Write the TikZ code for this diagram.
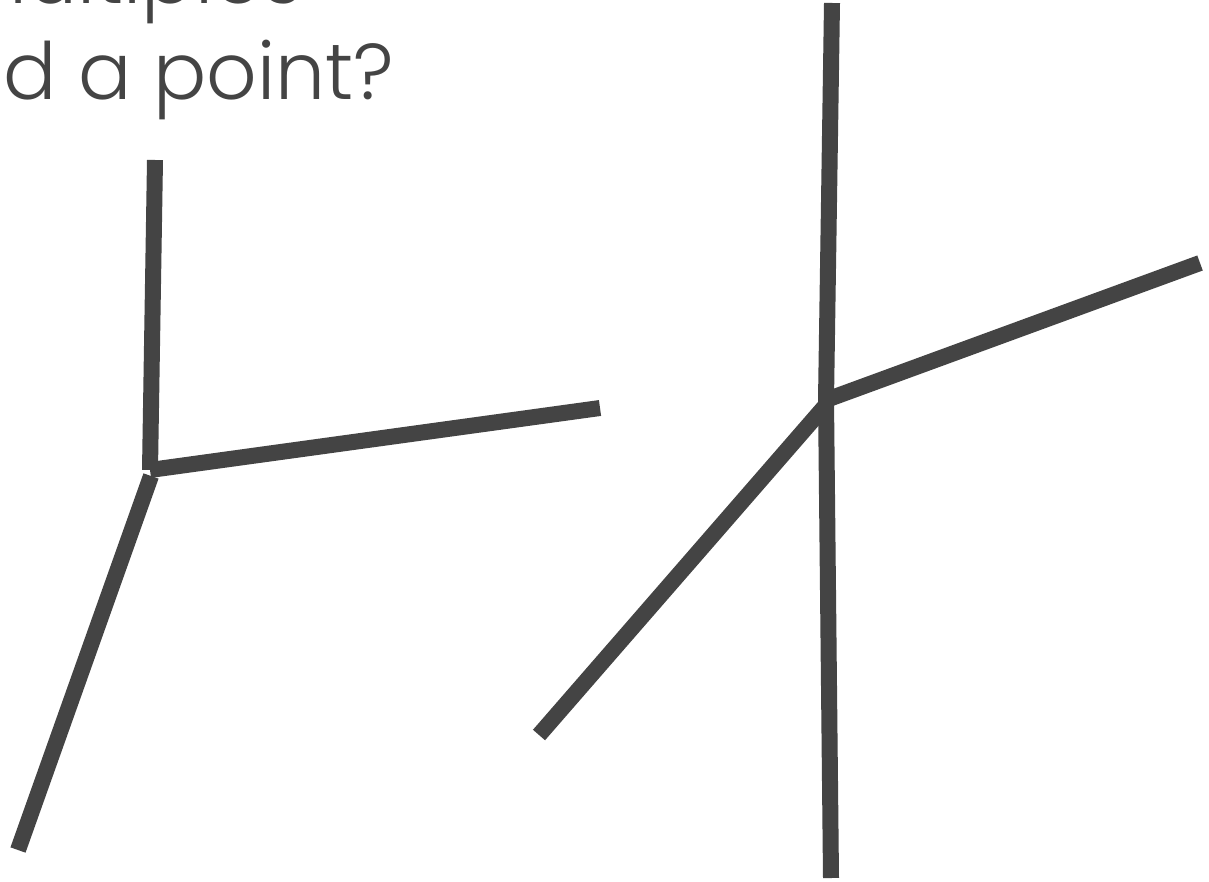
\documentclass[tikz,border=0pt]{standalone}
\usepackage{fontspec}
\setmainfont{Poppins}
\definecolor{ink}{HTML}{444444}
\begin{document}
\begin{tikzpicture}[x=1pt,y=-1pt,
  seg/.style={draw=ink,line width=16pt,line cap=butt},
  title/.style={text=ink,font=\fontsize{79}{96}\selectfont\fontspec{Poppins Light},inner sep=0pt}]
\useasboundingbox (0,0) rectangle (1209,882);
\clip (0,0) rectangle (1209,882);
\fill[white] (0,0) rectangle (1209,882);
\node[title,anchor=base east] (t1) at (303,4) {multiples};
\node[title,anchor=base east] (t2) at (394,100) {around a point?};
% left figure
\coordinate (a0) at (150,470);
\coordinate (a1) at (155,160);
\coordinate (a2) at (600,408);
\coordinate (a3) at (18,850);
\coordinate (a0b) at (151,476);
\draw[seg] (a0) -- (a1);
\draw[seg] (a0) -- (a2);
\draw[seg] (a0b) -- (a3);
% right figure
\coordinate (b0) at (826,400);
\coordinate (b1) at (832,3);
\coordinate (b2) at (1200,263);
\coordinate (b3) at (539,735);
\coordinate (b4) at (831,878);
\coordinate (b0b) at (826,405);
\draw[seg] (b0) -- (b1);
\draw[seg] (b0) -- (b2);
\draw[seg] (b0b) -- (b3);
\draw[seg] (b0) -- (b4);
\end{tikzpicture}
\end{document}
